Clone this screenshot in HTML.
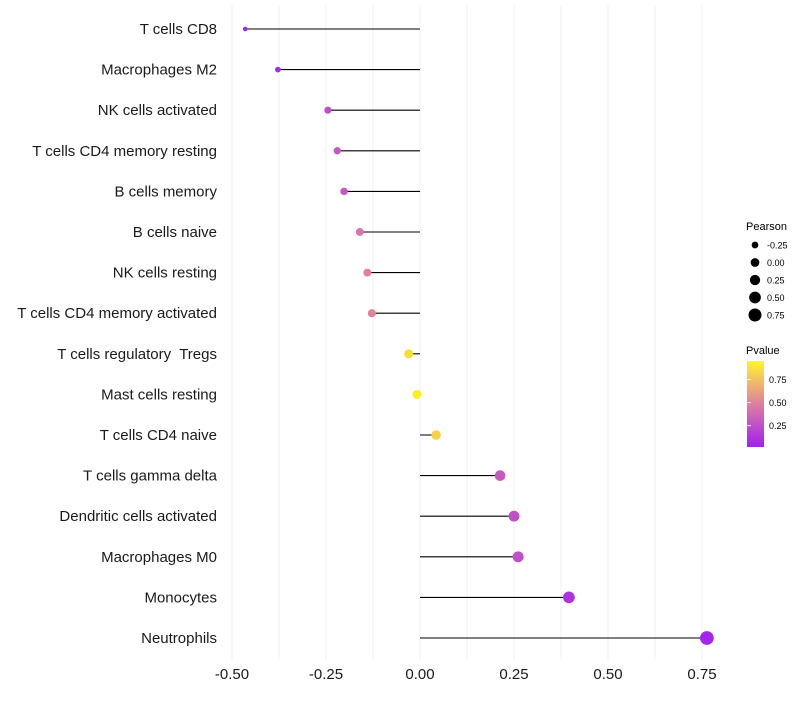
<!DOCTYPE html>
<html><head><meta charset="utf-8"><style>
body{margin:0;background:#fff;font-family:"Liberation Sans",sans-serif}
text{white-space:pre}
</style></head><body>
<svg id="c" width="800" height="700" font-family="Liberation Sans, sans-serif">
<defs><linearGradient id="pg" x1="0" y1="1" x2="0" y2="0">
<stop offset="0" stop-color="#a020f0"/><stop offset="0.5" stop-color="#de7fa0"/><stop offset="1" stop-color="#fff530"/></linearGradient></defs>
<g id="grid"></g>
<g id="marks"></g>
<g id="ylab"></g>
<g id="xlab"></g>
<g font-size="10">
<text x="746" y="230" font-size="11">Pearson</text>
<g id="sizeLeg"></g>
</g>
<g font-size="10">
<text x="746" y="354" font-size="11">Pvalue</text>
<rect x="747" y="361" width="17" height="86" fill="url(#pg)"/>
<g id="colLeg"></g>
</g>
</svg>
<script>
const categories=["T cells CD8","Macrophages M2","NK cells activated","T cells CD4 memory resting","B cells memory","B cells naive","NK cells resting","T cells CD4 memory activated","T cells regulatory  Tregs","Mast cells resting","T cells CD4 naive","T cells gamma delta","Dendritic cells activated","Macrophages M0","Monocytes","Neutrophils"];
const pearson=[-0.465,-0.378,-0.245,-0.22,-0.202,-0.16,-0.14,-0.128,-0.03,-0.008,0.043,0.213,0.25,0.261,0.396,0.763];
const pvalue=[0.03,0.05,0.25,0.3,0.3,0.45,0.52,0.52,0.9,0.97,0.85,0.3,0.25,0.25,0.1,0.03];
const xTicks=[-0.5,-0.25,0,0.25,0.5,0.75];
const xTickLabels=["-0.50","-0.25","0.00","0.25","0.50","0.75"];
const sizeBreaks=[-0.25,0,0.25,0.5,0.75];
const sizeLabels=["-0.25","0.00","0.25","0.50","0.75"];
const pBreaks=[0.25,0.5,0.75];
const pLabels=["0.25","0.50","0.75"];
const NS="http://www.w3.org/2000/svg";
const X=v=>420+v*376;
const Y=i=>29+i*40.6;
const R=v=>Math.sqrt(Math.max(2,21+34*v));
function lerp(a,b,t){return a.map((x,i)=>Math.round(x+(b[i]-x)*t));}
function col(p){const a=[160,32,240],m=[222,127,160],b=[255,245,30];
const c=p<0.5?lerp(a,m,p/0.5):lerp(m,b,(p-0.5)/0.5);return `rgb(${c})`;}
function mk(t,attrs,parent){const e=document.createElementNS(NS,t);for(const k in attrs)e.setAttribute(k,attrs[k]);parent.appendChild(e);return e;}
const grid=document.getElementById('grid');
for(let v=-0.5;v<=0.76;v+=0.125){
 const l=mk('line',{x1:X(v),x2:X(v),y1:5,y2:660,stroke:'#f0f0f0','stroke-width':1},grid);
 
 
}
const marks=document.getElementById('marks'),ylab=document.getElementById('ylab');
categories.forEach((c,i)=>{
 const s=mk('line',{x1:X(0),x2:X(pearson[i]),y1:Y(i),y2:Y(i),stroke:'#000','stroke-width':1.1},marks);
 
 
 const d=mk('circle',{cx:X(pearson[i]),cy:Y(i),r:R(pearson[i]),fill:col(pvalue[i])},marks);
 
 
 const t=mk('text',{x:217,y:Y(i)+5,'text-anchor':'end','font-size':15,fill:'#1a1a1a'},ylab);
 t.textContent=c;
 
 
});
const xlab=document.getElementById('xlab');
xTicks.forEach((v,i)=>{
 const t=mk('text',{x:X(v),y:679,'text-anchor':'middle','font-size':15,fill:'#1a1a1a'},xlab);
 t.textContent=xTickLabels[i];
 
 
});
const sl=document.getElementById('sizeLeg');
sizeBreaks.forEach((v,i)=>{
 const y=245+i*17.5;
 const c=mk('circle',{cx:755,cy:y,r:R(v)*0.95,fill:'#000'},sl);
 
 
 const t=mk('text',{x:767,y:y+3.5,'font-size':9},sl);
 t.textContent=sizeLabels[i];
 
 
});
const cl=document.getElementById('colLeg');
pBreaks.forEach((p,i)=>{
 const y=446-(p-0.03)/0.9*83;
 const l=mk('line',{x1:747,x2:751,y1:y,y2:y,stroke:'#fff','stroke-width':0.8},cl);
 
 
 const t=mk('text',{x:769,y:y+3.5,'font-size':9},cl);
 t.textContent=pLabels[i];
 
 
});
</script>
</body></html>
